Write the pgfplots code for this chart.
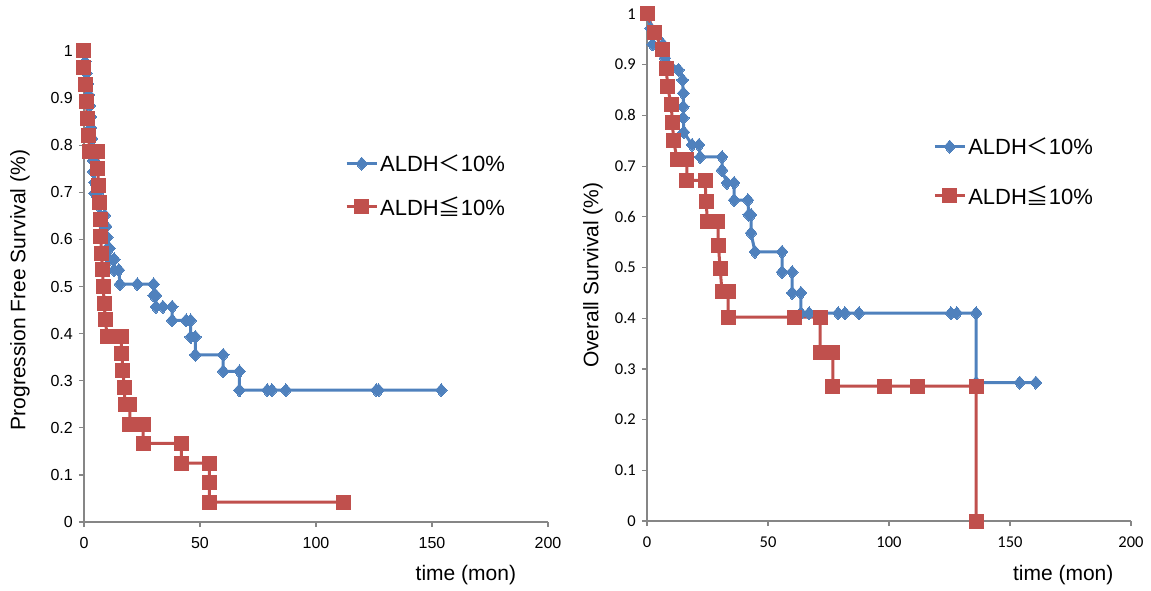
\documentclass[border=0pt]{standalone}
\usepackage{pgfplots}
\pgfplotsset{compat=1.18}
\usepackage{fontspec}
\setmainfont{Liberation Sans}
\newfontfamily\cjk{Noto Sans CJK SC}
\newfontfamily\calibri{Carlito}
\definecolor{exblue}{HTML}{4F81BD}
\definecolor{exred}{HTML}{C0504D}
\definecolor{axgray}{HTML}{868686}

\pgfplotsset{
 kmbase/.style={
   scale only axis, xmin=0,xmax=200,ymin=0,ymax=1,
   axis x line*=bottom, axis y line*=left,
   axis line style={axgray, line width=1.2pt},
   tick style={axgray, line width=1.2pt},
   tick align=outside, major tick length=5pt,
   xtick={0,50,100,150,200},
   ytick={0,0.1,0.2,0.3,0.4,0.5,0.6,0.7,0.8,0.9,1},
   yticklabels={0,0.1,0.2,0.3,0.4,0.5,0.6,0.7,0.8,0.9,1},
   xticklabels={0,50,100,150,200},
   clip=false,
   xticklabel style={anchor=center, yshift=-16pt, inner sep=0pt},
   yticklabel style={anchor=east, xshift=-6pt, inner sep=0pt},
   legend image code/.code={\draw[mark repeat=2,mark phase=2,#1] plot coordinates {(0pt,0pt) (15pt,0pt) (30pt,0pt)};},
   legend style={draw=none, fill=none, font=\fontsize{22}{26}\selectfont, inner sep=0pt, nodes={inner sep=2pt}},
   legend cell align=left,
 },
 blueser/.style={exblue, line width=3pt, mark=diamond*, mark size=6.5pt, mark options={solid, fill=exblue, draw=exblue, line width=0pt, xscale=1.2}},
 redser/.style={exred, line width=3pt, mark=square*, mark size=7pt, mark options={solid, fill=exred, draw=exred, line width=0pt}},
}

\begin{document}
\begin{tikzpicture}
\useasboundingbox (0,0) rectangle (1151pt,590pt);
% ---------- Left: PFS ----------
\begin{axis}[kmbase,
  at={(84pt,68pt)}, anchor=south west, width=464pt, height=471pt,
  ticklabel style={font=\fontsize{16}{19}\selectfont},
  xlabel={time (mon)}, ylabel={Progression Free Survival (\%)},
  label style={font=\fontsize{21}{25}\selectfont},
  xlabel style={at={(axis description cs:0.823,-0.1125)}, anchor=center},
  ylabel style={at={(axis description cs:-0.138,0.4926)}, anchor=center},
  legend style={at={(axis description cs:0.5625,0.714)}, anchor=west, row sep=20pt},
]
\addplot[blueser] coordinates {
(0,1) (0.5,0.977) (1,0.953) (1.5,0.93) (2,0.907) (2.5,0.884) (3,0.86) (3,0.837)
(3.5,0.814) (3.5,0.79) (4,0.767) (4,0.744) (4.5,0.721) (4.5,0.698) (6,0.698)
(6,0.674) (7,0.674) (7,0.651) (9,0.651) (9,0.628) (9.5,0.628) (9.5,0.605)
(10,0.605) (10,0.581) (11,0.581) (11,0.558) (13,0.558) (13,0.535) (15,0.535)
(15.5,0.505) (23,0.505) (30,0.505) (30,0.481) (31,0.481) (31,0.457) (34,0.457)
(38,0.457) (38,0.428) (44,0.428) (46,0.428) (46,0.393) (48,0.393) (48,0.355)
(60,0.355) (60,0.32) (67,0.32) (67,0.28) (79,0.28) (81,0.28) (87,0.28)
(126,0.28) (127,0.28) (154,0.28)
};
\addlegendentry{ALDH{\cjk ＜}10\%}
\addplot[redser] coordinates {
(0,1) (0,0.964) (0.5,0.929) (1,0.893) (1.5,0.857) (2,0.821) (2.5,0.786)
(6,0.786) (6,0.75) (6.2,0.714) (6.5,0.679) (7,0.643) (7.2,0.607) (7.5,0.571)
(8,0.536) (8.3,0.5) (8.7,0.464) (9.2,0.429) (10,0.393) (16,0.393) (16.3,0.357)
(16.8,0.321) (17.3,0.286) (17.7,0.25) (19.8,0.25) (19.8,0.208) (25.5,0.208)
(25.5,0.167) (42,0.167) (42,0.125) (54,0.125) (54,0.083) (54,0.042) (112,0.042)
};
\addlegendentry{ALDH{\cjk ≦}10\%}
\end{axis}
% ---------- Right: OS ----------
\begin{axis}[kmbase,
  at={(647pt,69pt)}, anchor=south west, width=484pt, height=507pt,
  ticklabel style={font=\calibri\fontsize{16.5}{19}\selectfont},
  xlabel={time (mon)}, ylabel={Overall Survival (\%)},
  label style={font=\fontsize{21}{25}\selectfont},
  xlabel style={at={(axis description cs:0.86,-0.1065)}, anchor=center},
  ylabel style={at={(axis description cs:-0.1116,0.485)}, anchor=center},
  legend style={at={(axis description cs:0.591,0.689)}, anchor=west, row sep=26pt},
]
\addplot[blueser] coordinates {
(0,1) (1.5,0.972) (2.3,0.94) (6.6,0.94) (7.4,0.913) (13,0.89) (14.7,0.87)
(15,0.844) (15,0.817) (15,0.795) (15.2,0.767) (18.6,0.742) (21.5,0.742)
(22,0.718) (31,0.718) (31,0.692) (33,0.667) (36,0.667) (36,0.633) (41.7,0.633)
(42,0.604) (43,0.604) (43,0.568) (44.6,0.531) (55.8,0.531) (55.8,0.491)
(60,0.491) (60,0.45) (63.6,0.45) (63.6,0.41) (67,0.41) (79,0.41) (81.8,0.41)
(87.6,0.41) (125.6,0.41) (128,0.41) (136,0.41) (136,0.273) (154,0.273) (160.7,0.273)
};
\addlegendentry{ALDH{\cjk ＜}10\%}
\addplot[redser] coordinates {
(0,1) (3,0.964) (6.6,0.929) (8,0.893) (8.5,0.857) (10,0.821) (10.5,0.786)
(11,0.75) (12.4,0.714) (16.5,0.714) (16.5,0.672) (24,0.672) (24.4,0.631)
(25,0.59) (29.3,0.59) (29.5,0.544) (30.2,0.499) (31,0.452) (33.5,0.452)
(33.5,0.402) (61,0.402) (71.5,0.402) (71.5,0.333) (76.8,0.333) (76.8,0.266)
(98.3,0.266) (111.6,0.266) (136,0.266) (136,0)
};
\addlegendentry{ALDH{\cjk ≦}10\%}
\end{axis}
\end{tikzpicture}
\end{document}
